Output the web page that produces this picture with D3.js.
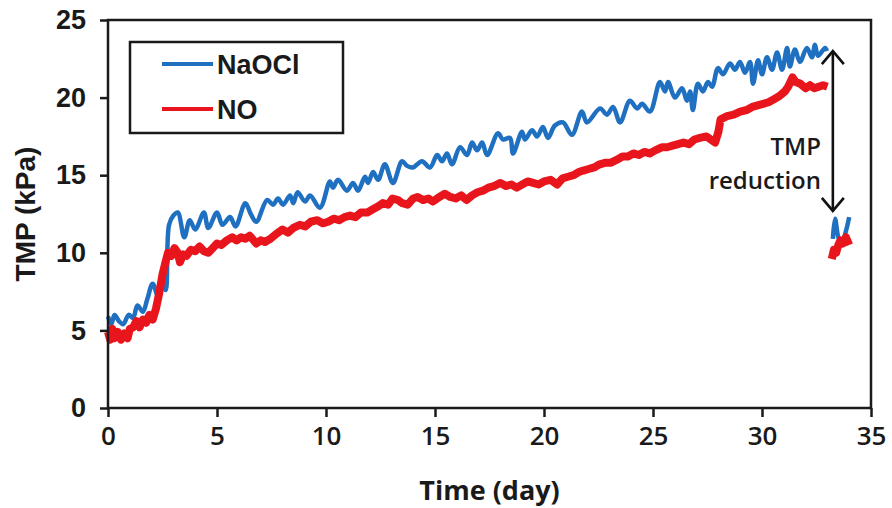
<!DOCTYPE html>
<html lang="en">
<head>
    <meta charset="UTF-8">
    <title>TMP vs Time</title>
    <script src="https://d3js.org/d3.v7.min.js"></script>
    <style>
        body {
            margin: 0;
            background: #ffffff;
        }
        svg {
            display: block;
        }
        .ytick text {
            font-family: "Liberation Sans", Arial, sans-serif;
            font-weight: bold;
            font-size: 27px;
            fill: #1a1a1a;
        }
        .xtick text {
            font-family: "Open Sans", sans-serif;
            font-weight: 600;
            font-size: 26px;
            fill: #1a1a1a;
        }
        .axis-title {
            font-family: "Liberation Sans", Arial, sans-serif;
            font-weight: bold;
            font-size: 28px;
            fill: #1a1a1a;
        }
        .x-title {
            font-family: "Open Sans", sans-serif;
            font-weight: 700;
            font-size: 27px;
            fill: #1a1a1a;
        }
        .legend-text {
            font-family: "Liberation Sans", Arial, sans-serif;
            font-weight: bold;
            font-size: 27px;
            fill: #1a1a1a;
        }
        .note {
            font-family: "Open Sans", sans-serif;
            font-weight: 600;
            font-size: 24px;
            fill: #1a1a1a;
        }
    </style>
</head>
<body>
<svg></svg>
<script>
    // Datos: [dia, TMP kPa]
    const xTicks = [0, 5, 10, 15, 20, 25, 30, 35];
    const yTicks = [0, 5, 10, 15, 20, 25];
    const seriesNames = ["NaOCl", "NO"];

    const naocl = [
        [0.0, 5.9], [0.15, 5.4], [0.3, 6.0], [0.5, 5.6], [0.7, 5.4], [0.95, 6.0],
        [1.15, 5.8], [1.35, 6.6], [1.6, 6.2], [1.8, 7.0], [2.05, 8.0], [2.3, 7.2],
        [2.5, 8.2], [2.65, 7.6], [2.8, 11.8], [3.0, 12.4], [3.2, 12.6], [3.5, 11.0],
        [3.75, 12.1], [4.0, 11.5], [4.4, 12.6], [4.6, 11.6], [5.0, 12.6], [5.25, 11.8],
        [5.6, 12.3], [5.85, 11.7], [6.3, 13.2], [6.55, 12.5], [6.8, 12.0], [7.3, 13.4],
        [7.57, 13.1], [7.8, 13.5], [8.03, 13.1], [8.35, 13.7], [8.5, 13.2], [8.7, 13.9],
        [9.04, 13.3], [9.27, 13.7], [9.72, 12.9], [10.18, 14.6], [10.32, 14.2], [10.55, 14.7],
        [10.96, 14.0], [11.24, 14.5], [11.47, 14.0], [11.79, 14.9], [11.93, 14.5], [12.16, 15.2],
        [12.39, 14.7], [12.7, 15.7], [13.07, 14.5], [13.49, 15.9], [13.72, 15.6], [13.99, 15.5],
        [14.4, 15.9], [14.77, 15.5], [15.1, 16.3], [15.32, 15.9], [15.55, 16.4], [15.78, 15.7],
        [16.15, 16.8], [16.47, 16.3], [16.7, 17.1], [16.93, 16.6], [17.16, 17.1], [17.39, 16.3],
        [17.89, 17.7], [18.12, 17.3], [18.44, 17.4], [18.58, 16.4], [18.99, 17.8], [19.13, 17.3],
        [19.45, 17.9], [19.68, 17.5], [19.95, 18.1], [20.18, 17.4], [20.5, 18.2], [20.87, 18.4],
        [21.28, 17.6], [21.74, 19.1], [21.97, 18.4], [22.57, 19.3], [22.89, 18.9], [23.17, 19.4],
        [23.49, 18.4], [23.94, 19.8], [24.27, 19.3], [24.5, 19.6], [24.86, 19.1], [25.32, 21.0],
        [25.55, 20.4], [25.69, 21.0], [26.01, 20.0], [26.33, 20.6], [26.56, 19.8], [26.7, 20.4],
        [26.83, 19.2], [27.06, 20.9], [27.29, 20.4], [27.52, 21.0], [27.71, 20.7], [27.98, 21.9],
        [28.21, 21.5], [28.53, 22.2], [28.76, 21.8], [28.99, 22.3], [29.22, 21.6], [29.45, 22.3],
        [29.59, 20.9], [29.82, 22.4], [30.0, 21.5], [30.23, 22.6], [30.46, 21.8], [30.69, 22.9],
        [30.92, 21.8], [31.15, 23.2], [31.28, 22.0], [31.51, 23.1], [31.74, 22.3], [32.06, 23.2],
        [32.29, 22.6], [32.43, 23.4], [32.57, 22.7], [32.89, 23.2], [32.98, 23.0]
    ];
    const naoclAfter = [
        [33.25, 10.9], [33.35, 12.2], [33.5, 11.0], [33.65, 10.6], [33.85, 11.4], [34.0, 12.3]
    ];

    const no = [
        [0.0, 4.9], [0.1, 4.4], [0.2, 5.1], [0.3, 4.5], [0.45, 4.9], [0.6, 4.4], [0.75, 4.8],
        [0.9, 4.5], [1.0, 5.1], [1.15, 5.2], [1.3, 5.6], [1.45, 5.2], [1.6, 5.7], [1.75, 5.5],
        [1.9, 6.0], [2.05, 5.7], [2.2, 6.4], [2.35, 7.4], [2.5, 8.6], [2.62, 9.3], [2.75, 10.0],
        [2.9, 9.8], [3.05, 10.3], [3.2, 10.0], [3.3, 9.4], [3.45, 9.9], [3.6, 9.8], [3.8, 10.2],
        [4.0, 10.1], [4.2, 10.4], [4.4, 10.1], [4.6, 10.0], [4.8, 10.3], [5.0, 10.6], [5.2, 10.5],
        [5.45, 10.8], [5.7, 11.0], [5.9, 10.8], [6.1, 11.0], [6.3, 10.9], [6.5, 11.1], [6.8, 10.6],
        [7.0, 10.8], [7.2, 10.7], [7.45, 10.9], [7.7, 11.2], [8.0, 11.5], [8.25, 11.3], [8.5, 11.6],
        [8.8, 11.8], [9.05, 11.7], [9.3, 12.0], [9.6, 12.1], [9.85, 11.9], [10.1, 12.0], [10.35, 12.2],
        [10.6, 12.1], [10.85, 12.3], [11.1, 12.4], [11.35, 12.3], [11.6, 12.6], [11.9, 12.6],
        [12.15, 12.8], [12.4, 13.0], [12.6, 13.2], [12.85, 13.1], [13.05, 13.5], [13.3, 13.4],
        [13.5, 13.2], [13.75, 13.1], [14.0, 13.5], [14.2, 13.6], [14.45, 13.4], [14.7, 13.5],
        [14.9, 13.3], [15.2, 13.6], [15.45, 13.8], [15.7, 13.6], [15.95, 13.5], [16.2, 13.7],
        [16.45, 13.4], [16.7, 13.7], [16.95, 13.9], [17.2, 14.0], [17.45, 14.2], [17.7, 14.3],
        [18.0, 14.5], [18.25, 14.3], [18.5, 14.4], [18.75, 14.2], [19.0, 14.4], [19.25, 14.6],
        [19.5, 14.5], [19.75, 14.4], [20.0, 14.6], [20.3, 14.7], [20.6, 14.4], [20.85, 14.8],
        [21.1, 14.9], [21.35, 15.0], [21.6, 15.2], [21.8, 15.3], [22.05, 15.4], [22.3, 15.5],
        [22.55, 15.7], [22.8, 15.8], [23.05, 15.8], [23.35, 16.0], [23.6, 16.2], [23.85, 16.2],
        [24.1, 16.4], [24.35, 16.3], [24.6, 16.5], [24.85, 16.4], [25.1, 16.6], [25.4, 16.8],
        [25.65, 16.8], [25.9, 16.9], [26.15, 17.0], [26.4, 17.1], [26.65, 17.0], [26.9, 17.3],
        [27.15, 17.4], [27.45, 17.5], [27.65, 17.3], [27.85, 17.1], [28.0, 17.8], [28.1, 18.6],
        [28.4, 18.8], [28.7, 18.9], [29.0, 19.1], [29.3, 19.2], [29.55, 19.4], [29.8, 19.5],
        [30.05, 19.6], [30.3, 19.7], [30.55, 19.9], [30.8, 20.1], [31.05, 20.4], [31.2, 20.7],
        [31.4, 21.3], [31.55, 21.0], [31.75, 20.9], [32.0, 20.6], [32.2, 20.8], [32.4, 20.6],
        [32.6, 20.7], [32.8, 20.8], [33.0, 20.7]
    ];
    const noAfter = [
        [33.2, 9.6], [33.3, 10.2], [33.4, 10.0], [33.5, 10.5], [33.6, 10.8], [33.7, 10.6],
        [33.85, 11.0], [34.0, 10.5]
    ];

    // flecha de reduccion del TMP
    const arrowDay = 33.25;
    const arrowRange = [23.0, 12.7];

    const width = 892, height = 508;
    const margin = { top: 20, right: 21, bottom: 100, left: 108 };

    const svg = d3.select("svg")
        .attr("width", width)
        .attr("height", height);

    const x = d3.scaleLinear().domain([0, 35]).range([margin.left, width - margin.right]);
    const y = d3.scaleLinear().domain([0, 25]).range([height - margin.bottom, margin.top]);

    const blue = "#1f70c1";
    const red = "#e8161c";

    // series
    const lineSmooth = d3.line()
        .x(d => x(d[0]))
        .y(d => y(d[1]))
        .curve(d3.curveCatmullRom.alpha(0.5));
    const lineRough = d3.line()
        .x(d => x(d[0]))
        .y(d => y(d[1]));

    [naocl, naoclAfter].forEach(s => {
        svg.append("path")
            .attr("d", lineSmooth(s))
            .attr("fill", "none")
            .attr("stroke", blue)
            .attr("stroke-width", 4.5)
            .attr("stroke-linejoin", "round");
    });
    [no, noAfter].forEach(s => {
        svg.append("path")
            .attr("d", lineRough(s))
            .attr("fill", "none")
            .attr("stroke", red)
            .attr("stroke-width", 8)
            .attr("stroke-linejoin", "round");
    });

    // ejes
    const yAxis = svg.append("g")
        .attr("class", "ytick")
        .attr("transform", `translate(${margin.left},0)`)
        .call(d3.axisLeft(y).tickValues(yTicks).tickSize(8).tickPadding(14));
    const xAxis = svg.append("g")
        .attr("class", "xtick")
        .attr("transform", `translate(0,${height - margin.bottom})`)
        .call(d3.axisBottom(x).tickValues(xTicks).tickSize(9).tickPadding(10));

    [yAxis, xAxis].forEach(g => {
        g.select(".domain").remove();
        g.selectAll("line").attr("stroke", "#1a1a1a").attr("stroke-width", 2.5);
    });

    // marco
    svg.append("rect")
        .attr("x", x(0))
        .attr("y", y(25))
        .attr("width", x(35) - x(0))
        .attr("height", y(0) - y(25))
        .attr("fill", "none")
        .attr("stroke", "#1a1a1a")
        .attr("stroke-width", 2.5);

    // titulos
    svg.append("text")
        .attr("class", "x-title")
        .attr("x", (x(0) + x(35)) / 2)
        .attr("y", 500)
        .attr("text-anchor", "middle")
        .text("Time (day)");

    svg.append("text")
        .attr("class", "axis-title")
        .attr("transform", `translate(35,${(y(0) + y(25)) / 2}) rotate(-90)`)
        .attr("text-anchor", "middle")
        .text("TMP (kPa)");

    // leyenda
    const legend = svg.append("g");
    legend.append("rect")
        .attr("x", 130).attr("y", 42)
        .attr("width", 213).attr("height", 91)
        .attr("fill", "#fff")
        .attr("stroke", "#1a1a1a")
        .attr("stroke-width", 2.5);
    [blue, red].forEach((c, i) => {
        const ly = 64 + i * 45;
        legend.append("line")
            .attr("x1", 162).attr("x2", 213)
            .attr("y1", ly).attr("y2", ly)
            .attr("stroke", c)
            .attr("stroke-width", 4);
        legend.append("text")
            .attr("class", "legend-text")
            .attr("x", 217)
            .attr("y", ly + 10)
            .text(seriesNames[i]);
    });

    // flecha doble
    const ax = x(arrowDay);
    const aTop = y(arrowRange[0]), aBot = y(arrowRange[1]);
    const arrow = svg.append("g")
        .attr("fill", "none")
        .attr("stroke", "#111")
        .attr("stroke-width", 2.6);
    arrow.append("line").attr("x1", ax).attr("x2", ax).attr("y1", aTop).attr("y2", aBot);
    arrow.append("path").attr("d", `M${ax - 11},${aTop + 13}L${ax},${aTop}L${ax + 11},${aTop + 13}`);
    arrow.append("path").attr("d", `M${ax - 11},${aBot - 13}L${ax},${aBot}L${ax + 11},${aBot - 13}`);

    svg.append("text")
        .attr("class", "note")
        .attr("x", 821).attr("y", 155)
        .attr("text-anchor", "end")
        .text("TMP");
    svg.append("text")
        .attr("class", "note")
        .attr("x", 821).attr("y", 189)
        .attr("text-anchor", "end")
        .text("reduction");
</script>
</body>
</html>
